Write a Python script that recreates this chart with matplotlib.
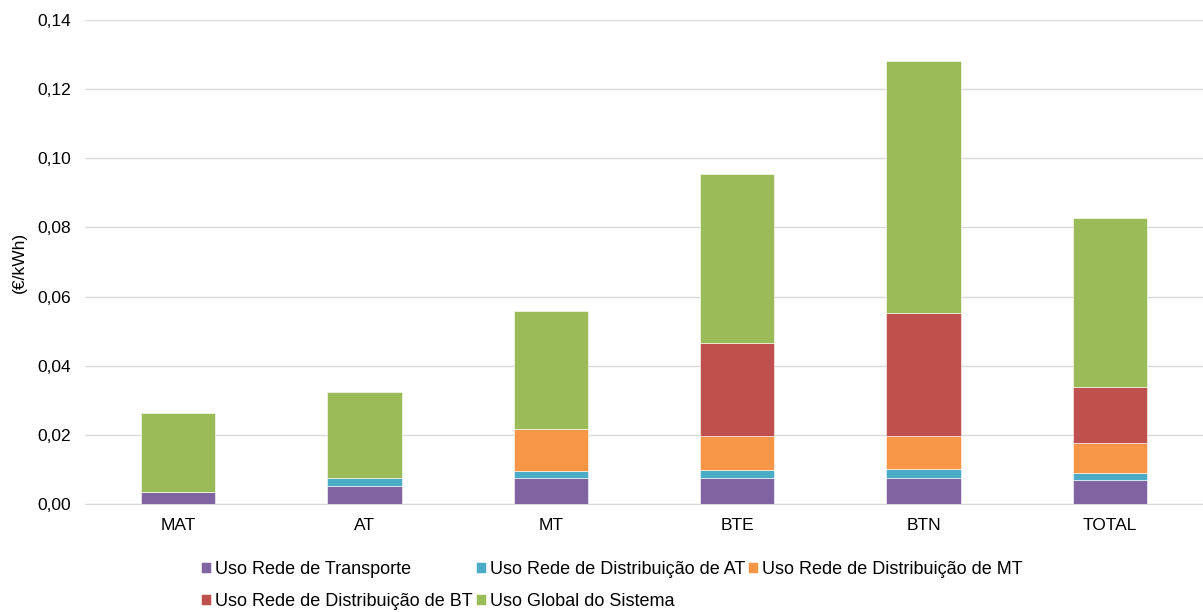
import numpy as np
import matplotlib.pyplot as plt

plt.rcParams['font.family'] = ['Liberation Sans', 'DejaVu Sans']

categorias = ['MAT', 'AT', 'MT', 'BTE', 'BTN', 'TOTAL']
transporte = [0.0034, 0.0053, 0.0075, 0.0074, 0.0076, 0.0069]
dist_at = [0.0, 0.0023, 0.0020, 0.0024, 0.0024, 0.0022]
dist_mt = [0.0, 0.0, 0.0122, 0.0099, 0.0097, 0.0086]
dist_bt = [0.0, 0.0, 0.0, 0.0270, 0.0355, 0.0161]
global_sist = [0.0229, 0.0248, 0.0341, 0.0488, 0.0729, 0.0489]

series = [
    ('Uso Rede de Transporte', transporte, '#8064A2'),
    ('Uso Rede de Distribuição de AT', dist_at, '#4BACC6'),
    ('Uso Rede de Distribuição de MT', dist_mt, '#F79646'),
    ('Uso Rede de Distribuição de BT', dist_bt, '#C0504D'),
    ('Uso Global do Sistema', global_sist, '#9BBB59'),
]

fig = plt.figure(figsize=(12.03, 6.12), dpi=100)
ax = fig.add_axes([85 / 1203, 1 - 504 / 612, 1118 / 1203, 484 / 612])

x = np.arange(len(categorias))
base = np.zeros(len(categorias))
handles = []
for nome, vals, cor in series:
    vals = np.array(vals)
    b = ax.bar(x, vals, 0.4, bottom=base, color=cor, edgecolor='white',
               linewidth=0.4, label=nome, zorder=3)
    handles.append(b)
    base = base + vals

ax.set_xlim(-0.5, len(categorias) - 0.5)
ax.set_ylim(0, 0.14)
ax.set_yticks(np.arange(0, 0.141, 0.02))
ax.set_yticklabels([('%.2f' % v).replace('.', ',') for v in np.arange(0, 0.141, 0.02)])
ax.set_xticks(x)
ax.set_xticklabels(categorias)
ax.tick_params(length=0, labelsize=12.5, colors='#000000')
ax.tick_params(axis='x', pad=10)
ax.tick_params(axis='y', pad=10)
ax.grid(axis='y', color='#D9D9D9', linewidth=1, zorder=0)
for s in ['top', 'right', 'left']:
    ax.spines[s].set_visible(False)
ax.spines['bottom'].set_color('#D9D9D9')
ax.set_ylabel('(€/kWh)', fontsize=12.5)
ax.yaxis.set_label_coords(-0.052, 0.5)

order = [0, 3, 1, 4, 2]
fig.legend([handles[i] for i in order], [series[i][0] for i in order],
           loc='upper left', bbox_to_anchor=(194 / 1203, 1 - 554 / 612),
           ncol=3, frameon=False, fontsize=13, handlelength=0.55,
           handleheight=0.55, handletextpad=0.2, columnspacing=0.2,
           labelspacing=0.8, borderaxespad=0)

plt.savefig('out.png', dpi=100)
